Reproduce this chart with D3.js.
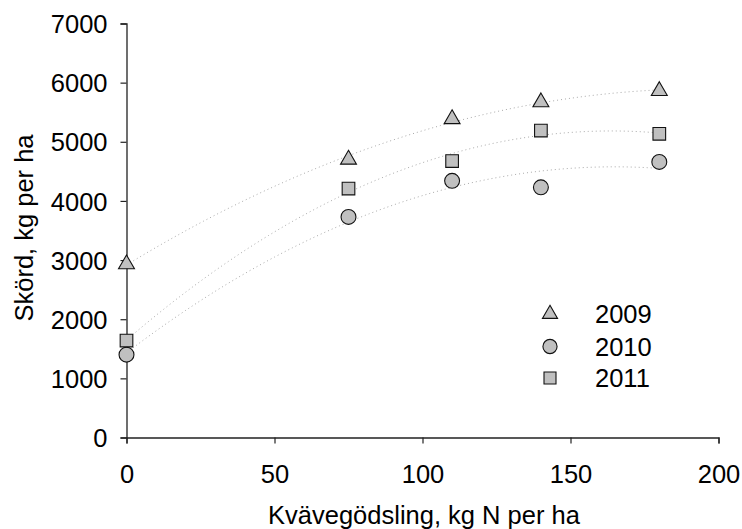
<!DOCTYPE html>
<html><head><meta charset="utf-8">
<script src="https://cdn.jsdelivr.net/npm/d3@7"></script>
<style>body{margin:0;background:#fff}svg{display:block}text{font-family:"Liberation Sans",Arial,sans-serif;fill:#000}</style>
</head><body><svg id="c" width="742" height="529"></svg>
<script>
const nitrogen = [0, 75, 110, 140, 180];
const years = ["2009", "2010", "2011"];
const yield2009 = [2930, 4700, 5385, 5670, 5860];
const yield2010 = [1400, 3730, 4340, 4230, 4660];
const yield2011 = [1640, 4210, 4675, 5190, 5135];
const xTicks = [0, 50, 100, 150, 200];
const yTicks = [0, 1000, 2000, 3000, 4000, 5000, 6000, 7000];
const series = [
  {name: years[0], values: yield2009, shape: d3.symbolTriangle, size: 110},
  {name: years[1], values: yield2010, shape: d3.symbolCircle, size: 175},
  {name: years[2], values: yield2011, shape: d3.symbolSquare, size: 160}
];

const svg = d3.select("#c");
const x = d3.scaleLinear().domain([0, 200]).range([126.5, 718.5]);
const y = d3.scaleLinear().domain([0, 7000]).range([437.5, 23.5]);
const FS = "25.5px";

// quadratic least squares fit (trend line)
function quadFit(xs, ys) {
  const n = xs.length;
  let S = [0,0,0,0,0], T = [0,0,0];
  for (let i = 0; i < n; i++) {
    for (let k = 0; k < 5; k++) S[k] += Math.pow(xs[i], k);
    for (let k = 0; k < 3; k++) T[k] += ys[i] * Math.pow(xs[i], k);
  }
  const A = [[S[0],S[1],S[2],T[0]],[S[1],S[2],S[3],T[1]],[S[2],S[3],S[4],T[2]]];
  for (let i = 0; i < 3; i++) {
    for (let j = i+1; j < 3; j++) {
      const f = A[j][i] / A[i][i];
      for (let k = i; k < 4; k++) A[j][k] -= f * A[i][k];
    }
  }
  const c = [0,0,0];
  for (let i = 2; i >= 0; i--) {
    let s = A[i][3];
    for (let k = i+1; k < 3; k++) s -= A[i][k] * c[k];
    c[i] = s / A[i][i];
  }
  return v => c[0] + c[1]*v + c[2]*v*v;
}

series.forEach(s => {
  const f = quadFit(nitrogen, s.values);
  const pts = d3.range(0, 180.01, 2).map(v => [v, f(v)]);
  svg.append("path")
    .attr("d", d3.line().x(d => x(d[0])).y(d => y(d[1]))(pts))
    .attr("fill", "none").attr("stroke", "#aaa").attr("stroke-width", 1)
    .attr("stroke-dasharray", "1,3");
});

// axes
const xAxis = svg.append("g").attr("transform", "translate(0,437.5)")
  .call(d3.axisBottom(x).tickValues(xTicks).tickSize(6).tickFormat(d3.format("d")));
const yAxis = svg.append("g").attr("transform", "translate(126.5,0)")
  .call(d3.axisLeft(y).tickValues(yTicks).tickSize(6).tickFormat(d3.format("d")));
[xAxis, yAxis].forEach(g => {
  g.select(".domain").attr("stroke", "#222").attr("stroke-width", 1.3);
  g.selectAll(".tick line").attr("stroke", "#222").attr("stroke-width", 1.2);
  g.selectAll("text").style("font-size", FS).attr("fill", "#000");
});
xAxis.selectAll("text").attr("y", 45).attr("dy", null);
yAxis.selectAll("text").attr("x", -19).attr("dy", "0.36em");

// points
series.forEach(s => {
  svg.append("g").selectAll("path").data(s.values).join("path")
    .attr("transform", (d, i) => `translate(${x(nitrogen[i])},${y(d)})`)
    .attr("d", d3.symbol().type(s.shape).size(s.size))
    .attr("fill", "#c0c0c0").attr("stroke", "#111").attr("stroke-width", 1.1);
});

// legend
const legendY = [314, 346.5, 378];
series.forEach((s, i) => {
  const ly = legendY[i];
  svg.append("path").attr("transform", `translate(550,${ly})`)
    .attr("d", d3.symbol().type(s.shape).size(s.size * 0.9))
    .attr("fill", "#c0c0c0").attr("stroke", "#111").attr("stroke-width", 1.1);
  svg.append("text").attr("x", 595).attr("y", ly).attr("dy", "0.36em")
    .style("font-size", FS).text(s.name);
});

// axis titles
svg.append("text").attr("x", 424).attr("y", 524).attr("text-anchor", "middle")
  .style("font-size", FS).text("Kvävegödsling, kg N per ha");
svg.append("text").attr("transform", "translate(33,228) rotate(-90)").attr("text-anchor", "middle")
  .style("font-size", FS).text("Skörd, kg per ha");
</script></body></html>
